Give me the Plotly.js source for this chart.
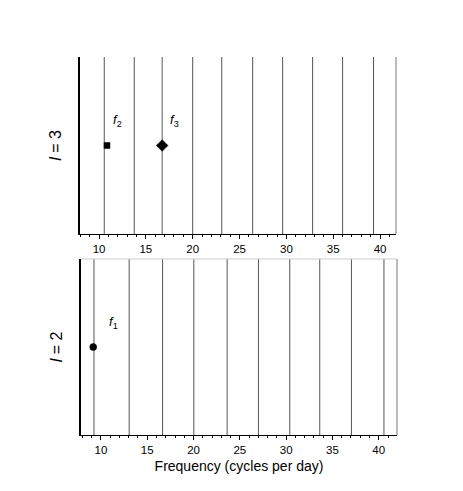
<!DOCTYPE html>
<html>
<head>
<meta charset="utf-8">
<script src="https://cdn.plot.ly/plotly-3.0.1.min.js"></script>
<style>
  html, body { margin: 0; padding: 0; background: #fff; }
  #chart { width: 463px; height: 491px; }
</style>
</head>
<body>
<div id="chart"></div>
<script>
// vertical comb lines (cycles per day) for each degree
const linesL3 = [10.56, 13.76, 16.74, 20.0, 23.1, 26.4, 29.6, 32.8, 36.0, 39.3];
const linesL2 = [9.25, 13.05, 16.66, 20.03, 23.63, 27.01, 30.39, 33.63, 37.05, 40.56];

// observed modes
const modesL3 = ["f2", "f3"];
const modesL3Freq = [10.85, 16.74];
const modesL3Symbol = ["square", "diamond"];
const modesL2 = ["f1"];
const modesL2Freq = [9.17];
const modesL2Symbol = ["circle"];

const tickVals = [10, 15, 20, 25, 30, 35, 40];

const FONT = "Liberation Sans, Arial, Helvetica, sans-serif";

function combTrace(freqs, xa, ya) {
  const x = [], y = [];
  freqs.forEach(f => {
    x.push(f, f, null);
    y.push(0, 1, null);
  });
  return {
    x: x, y: y, xaxis: xa, yaxis: ya,
    mode: "lines",
    line: { color: "#555", width: 1 },
    hoverinfo: "skip",
    showlegend: false
  };
}

function modeTrace(freqs, symbols, xa, ya) {
  return {
    x: freqs,
    y: freqs.map(() => 0.5),
    xaxis: xa, yaxis: ya,
    mode: "markers",
    opacity: 1,
    marker: {
      color: "#000",
      opacity: 1,
      line: { color: "#000", width: 0.5 },
      symbol: symbols,
      size: symbols.map(s => s === "diamond" ? 9 : (s === "square" ? 6 : 7))
    },
    showlegend: false
  };
}

function label(name, f, xa, ya, shift) {
  const n = name.slice(1);
  return {
    x: f, y: 0.64, xref: xa, yref: ya,
    xshift: shift,
    text: "<i>f</i><sub>" + n + "</sub>",
    showarrow: false,
    font: { family: FONT, size: 13, color: "#000" }
  };
}

const traces = [
  combTrace(linesL3, "x", "y"),
  modeTrace(modesL3Freq, modesL3Symbol, "x", "y"),
  combTrace(linesL2, "x2", "y2"),
  modeTrace(modesL2Freq, modesL2Symbol, "x2", "y2")
];

const tickFont = { family: FONT, size: 11.5, color: "#000" };

function xAxis(domain, range, anchor) {
  return {
    domain: domain, range: range, anchor: anchor,
    tickvals: tickVals,
    ticks: "outside", ticklen: 4, tickwidth: 1, tickcolor: "#000",
    minor: { dtick: 1, tick0: 0, ticks: "outside", ticklen: 2, tickcolor: "#000" },
    showline: true, linecolor: "#000", linewidth: 1,
    showgrid: false, zeroline: false,
    tickfont: tickFont
  };
}

function yAxis(domain, anchor, txt) {
  return {
    domain: domain, range: [0, 1], anchor: anchor,
    showticklabels: false, ticks: "",
    showline: true, linecolor: "#000", linewidth: 2,
    showgrid: false, zeroline: false,
    title: { text: txt, standoff: 12,
             font: { family: FONT, size: 16, color: "#000" } }
  };
}

const W = 463, H = 491;

const layout = {
  width: W, height: H,
  margin: { l: 0, r: 0, t: 0, b: 0 },
  paper_bgcolor: "#fff", plot_bgcolor: "#fff",
  showlegend: false,
  xaxis: xAxis([80 / W, 396 / W], [7.97, 41.7], "y"),
  yaxis: yAxis([1 - 234 / H, 1 - 57 / H], "x", "<i>l</i> = 3"),
  xaxis2: Object.assign(xAxis([81 / W, 397 / W], [7.85, 41.97], "y2"), {
    title: { text: "Frequency (cycles per day)", standoff: 6,
             font: { family: FONT, size: 14, color: "#000" } }
  }),
  yaxis2: yAxis([1 - 435 / H, 1 - 259 / H], "x2", "<i>l</i> = 2"),
  annotations: [
    label(modesL3[0], modesL3Freq[0], "x", "y", 11),
    label(modesL3[1], modesL3Freq[1], "x", "y", 12),
    label(modesL2[0], modesL2Freq[0], "x2", "y2", 20)
  ],
  shapes: [
    { type: "line", xref: "x domain", yref: "y domain", x0: 1, x1: 1, y0: 0, y1: 1,
      line: { color: "#777", width: 1 } },
    { type: "line", xref: "x2 domain", yref: "y2 domain", x0: 1, x1: 1, y0: 0, y1: 1,
      line: { color: "#777", width: 1 } },
    { type: "line", xref: "x2 domain", yref: "y2 domain", x0: 0, x1: 1, y0: 1, y1: 1,
      line: { color: "#ccc", width: 1 } }
  ]
};

Plotly.newPlot("chart", traces, layout, { displayModeBar: false, staticPlot: true });
</script>
</body>
</html>
